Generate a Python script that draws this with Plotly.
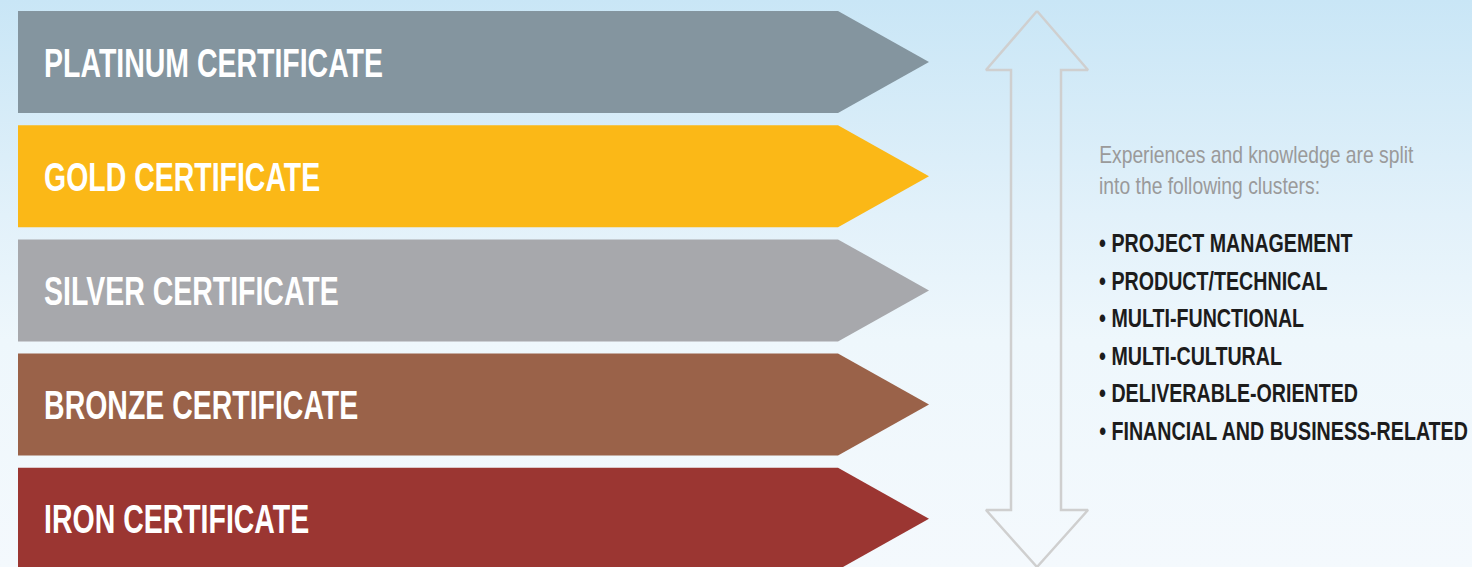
import json
import plotly.graph_objects as go

# ---- data ----
levels = ["PLATINUM CERTIFICATE", "GOLD CERTIFICATE", "SILVER CERTIFICATE",
          "BRONZE CERTIFICATE", "IRON CERTIFICATE"]
level_colors = ["#84959f", "#fbb817", "#a7a8ac", "#9a6249", "#9b3632"]
intro_lines = ["Experiences and knowledge are split", "into the following clusters:"]
clusters = ["PROJECT MANAGEMENT", "PRODUCT/TECHNICAL", "MULTI-FUNCTIONAL",
            "MULTI-CULTURAL", "DELIVERABLE-ORIENTED", "FINANCIAL AND BUSINESS-RELATED"]

W, H = 1472, 567
FONT = "Liberation Sans, Arial, DejaVu Sans, sans-serif"

fig = go.Figure()

# background sky gradient
fig.add_trace(go.Scatter(
    x=[0, W, W, 0, 0], y=[0, 0, H, H, 0], mode="lines", fill="toself",
    line=dict(width=0),
    fillgradient=dict(type="vertical",
                      colorscale=[[0, "#f4f9fd"], [0.4, "#eef7fc"], [0.62, "#e2f1fa"], [1, "#c9e6f6"]]),
    hoverinfo="skip", showlegend=False))

# certificate arrows
x0, x_sh, x_tip = 18, 838, 929
top0, step, hgt = 11, 114.2, 102
annotations = []
groups = []  # condense group per annotation
for i, (lab, col) in enumerate(zip(levels, level_colors)):
    t = top0 + i * step
    b = t + hgt
    m = (t + b) / 2
    fig.add_trace(go.Scatter(
        x=[x0, x_sh, x_tip, x_sh, x0, x0], y=[t, t, m, b, b, t],
        mode="lines", fill="toself", fillcolor=col, line=dict(width=0, color=col),
        hoverinfo="skip", showlegend=False))
    annotations.append(dict(
        x=42, y=m + 0.5, xref="x", yref="y", text=lab, showarrow=False,
        xanchor="left", yanchor="middle",
        font=dict(family=FONT, size=40, color="white", weight="bold")))
    groups.append("label")

# double-headed outline arrow
cx, sh_l, sh_r, hd_l, hd_r = 1037, 1011, 1061, 986, 1088
tip_t, base_t, base_b, tip_b = 11, 70, 510, 567
fig.add_trace(go.Scatter(
    x=[cx, hd_r, sh_r, sh_r, hd_r, cx, hd_l, sh_l, sh_l, hd_l, cx],
    y=[tip_t, base_t, base_t, base_b, base_b, tip_b, base_b, base_b, base_t, base_t, tip_t],
    mode="lines", line=dict(color="#cfcfcf", width=2.5),
    hoverinfo="skip", showlegend=False))

# intro text
for j, line in enumerate(intro_lines):
    annotations.append(dict(
        x=1097, y=155 + j * 31, xref="x", yref="y", text=line, showarrow=False,
        xanchor="left", yanchor="middle",
        font=dict(family=FONT, size=23, color="#9a9a9a")))
    groups.append("intro")

# cluster bullets
for k, c in enumerate(clusters):
    annotations.append(dict(
        x=1097, y=243 + k * 37.6, xref="x", yref="y", text="\u2022 " + c, showarrow=False,
        xanchor="left", yanchor="middle",
        font=dict(family=FONT, size=26, color="#1c1c1c", weight="bold")))
    groups.append("bullet")

fig.update_layout(
    width=W, height=H, margin=dict(l=0, r=0, t=0, b=0),
    paper_bgcolor="#eef7fc", plot_bgcolor="rgba(0,0,0,0)",
    xaxis=dict(range=[0, W], visible=False, fixedrange=True),
    yaxis=dict(range=[H, 0], visible=False, fixedrange=True),
    annotations=annotations, showlegend=False)

# condensed-type emulation: each group is squeezed horizontally so that its
# reference line (index) gets the width seen in the original typography
ref_widths = {"label": [0, 339], "intro": [5, 315], "bullet": [12, 369]}
post = """
document.body.style.margin='0';
var gd=document.getElementById('{plot_id}');
var groups=GROUPS, refs=REFS;
var texts={};
gd.querySelectorAll('g.annotation').forEach(function(a){
  var idx=+a.getAttribute('data-index');
  texts[idx]=a.querySelector('text.annotation-text');
});
var factor={};
Object.keys(refs).forEach(function(g){
  var t=texts[refs[g][0]];
  if(t){factor[g]=refs[g][1]/t.getBBox().width;}
});
Object.keys(texts).forEach(function(i){
  var t=texts[i], f=factor[groups[i]]||1;
  t.style.transformBox='fill-box';
  t.style.transformOrigin='0% 50%';
  t.style.transform='scaleX('+f+')';
});
""".replace("GROUPS", json.dumps(groups)).replace("REFS", json.dumps(ref_widths))
fig.write_html("out.html", post_script=post, config={"displayModeBar": False})
